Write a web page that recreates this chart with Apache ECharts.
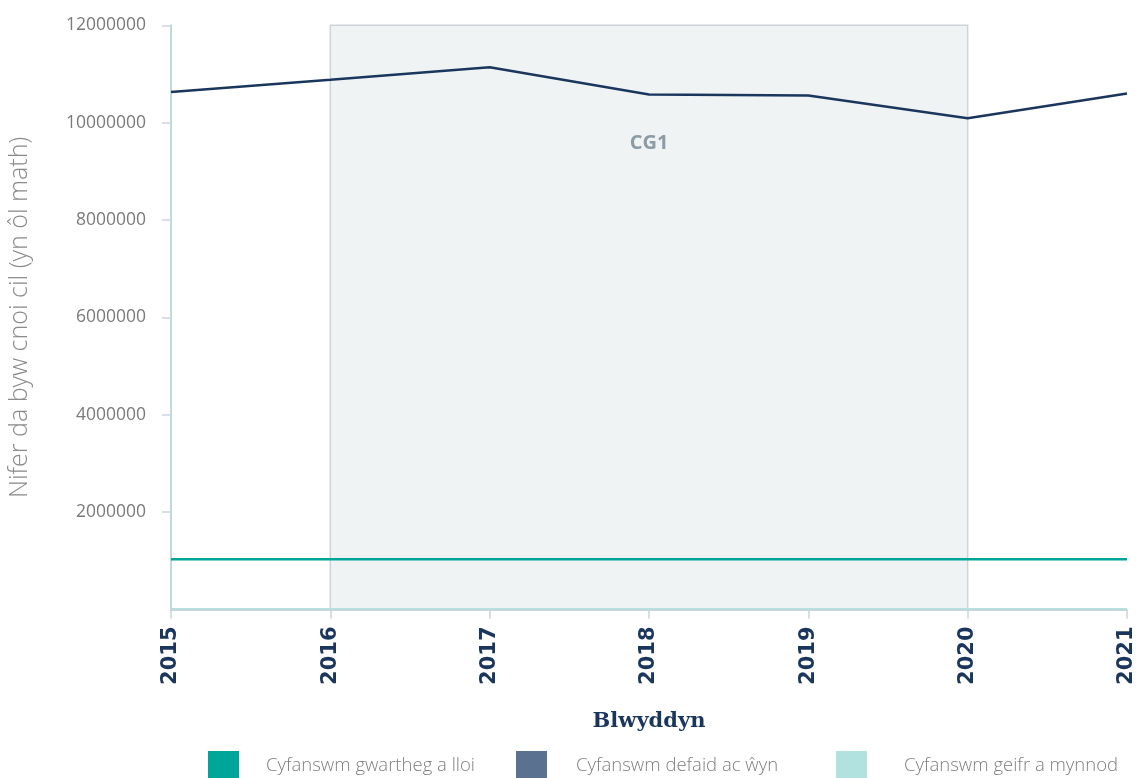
<!DOCTYPE html>
<html>
<head>
<meta charset="utf-8">
<style>
  html, body { margin: 0; padding: 0; background: #ffffff; }
  #chart { width: 1137px; height: 778px; }
</style>
<script src="https://cdn.jsdelivr.net/npm/echarts@6/dist/echarts.min.js"></script>
</head>
<body>
<div id="chart"></div>
<script>
// Years on the horizontal axis
const years = ['2015', '2016', '2017', '2018', '2019', '2020', '2021'];

// Livestock counts per year
const cattle = [1030000, 1030000, 1030000, 1030000, 1030000, 1030000, 1030000];
const sheep = [10630000, 10880000, 11140000, 10580000, 10560000, 10090000, 10600000];
const goats = [10000, 10000, 10000, 10000, 10000, 10000, 10000];

const seriesNames = [
  'Cyfanswm gwartheg a lloi',
  'Cyfanswm defaid ac ŵyn',
  'Cyfanswm geifr a mynnod'
];
const seriesColors = ['#00a59a', '#5a7190', '#b2e2df'];
const sheepLine = '#1b365d';

// Shaded period
const bandStart = '2016';
const bandEnd = '2020';
const bandLabel = 'CG1';

const axisColor = '#c6d6dd';

const chart = echarts.init(document.getElementById('chart'));

function legendAt(i, left, textGap) {
  return {
    data: [{ name: seriesNames[i], icon: 'rect' }],
    left: left,
    top: 751,
    padding: 0,
    itemWidth: 31,
    itemHeight: 30,
    selectedMode: false,
    textStyle: {
      fontFamily: 'Open Sans',
      fontWeight: 300,
      fontSize: 18.5,
      color: '#7f7f7f',
      padding: [6, 0, 0, textGap]
    }
  };
}

chart.setOption({
  animation: false,
  backgroundColor: '#ffffff',
  color: seriesColors,
  grid: {
    left: 171, right: 10, top: 25.3, bottom: 168.5,
    containLabel: false,
    outerBoundsMode: 'none'
  },
  legend: [legendAt(0, 208, 22), legendAt(1, 516, 24), legendAt(2, 836, 32)],
  xAxis: {
    type: 'category',
    data: years,
    boundaryGap: false,
    z: 3,
    name: 'Blwyddyn',
    nameLocation: 'middle',
    nameGap: 102,
    nameTextStyle: {
      fontFamily: 'DejaVu Serif',
      fontWeight: 'bold',
      fontSize: 21,
      color: '#1b365d'
    },
    axisLine: { lineStyle: { color: axisColor, width: 2 } },
    axisTick: { show: true, alignWithLabel: true, length: 9, lineStyle: { color: axisColor, width: 1.5 } },
    axisLabel: {
      rotate: 90,
      margin: 17,
      fontFamily: 'DejaVu Sans',
      fontWeight: 'bold',
      fontSize: 21,
      color: '#1b365d'
    },
    splitLine: { show: false }
  },
  yAxis: {
    type: 'value',
    min: 0,
    max: 12000000,
    interval: 2000000,
    name: 'Nifer da byw cnoi cil (yn ôl math)',
    nameLocation: 'middle',
    nameGap: 139,
    nameTextStyle: {
      fontFamily: 'Open Sans',
      fontWeight: 300,
      fontSize: 25,
      color: '#8a8a8a'
    },
    axisLine: { show: true, lineStyle: { color: axisColor, width: 2 } },
    axisTick: { show: true, length: 9, lineStyle: { color: axisColor, width: 1.5 } },
    axisLabel: {
      showMinLabel: false,
      margin: 25,
      fontFamily: 'Open Sans',
      fontSize: 17.5,
      color: '#7a7a7a',
      formatter: function (v) { return String(v); }
    },
    splitLine: { show: false }
  },
  series: [
    {
      name: seriesNames[0],
      type: 'line',
      data: cattle,
      symbol: 'none',
      lineStyle: { color: seriesColors[0], width: 2.5 },
      itemStyle: { color: seriesColors[0] },
      markArea: {
        silent: true,
        itemStyle: { color: '#eff3f4', borderColor: '#cdd5d9', borderWidth: 1.5 },
        label: {
          show: true,
          position: 'insideTop',
          distance: 109,
          fontFamily: 'Open Sans',
          fontWeight: 'bold',
          fontSize: 20,
          color: '#8d9ba5'
        },
        data: [[
          { name: bandLabel, xAxis: bandStart, yAxis: 12000000 },
          { xAxis: bandEnd, yAxis: 0 }
        ]]
      }
    },
    {
      name: seriesNames[1],
      type: 'line',
      data: sheep,
      symbol: 'none',
      lineStyle: { color: sheepLine, width: 2.5 },
      itemStyle: { color: seriesColors[1] }
    },
    {
      name: seriesNames[2],
      type: 'line',
      data: goats,
      symbol: 'none',
      z: 1,
      lineStyle: { color: seriesColors[2], width: 2 },
      itemStyle: { color: seriesColors[2] }
    }
  ]
});
</script>
</body>
</html>
